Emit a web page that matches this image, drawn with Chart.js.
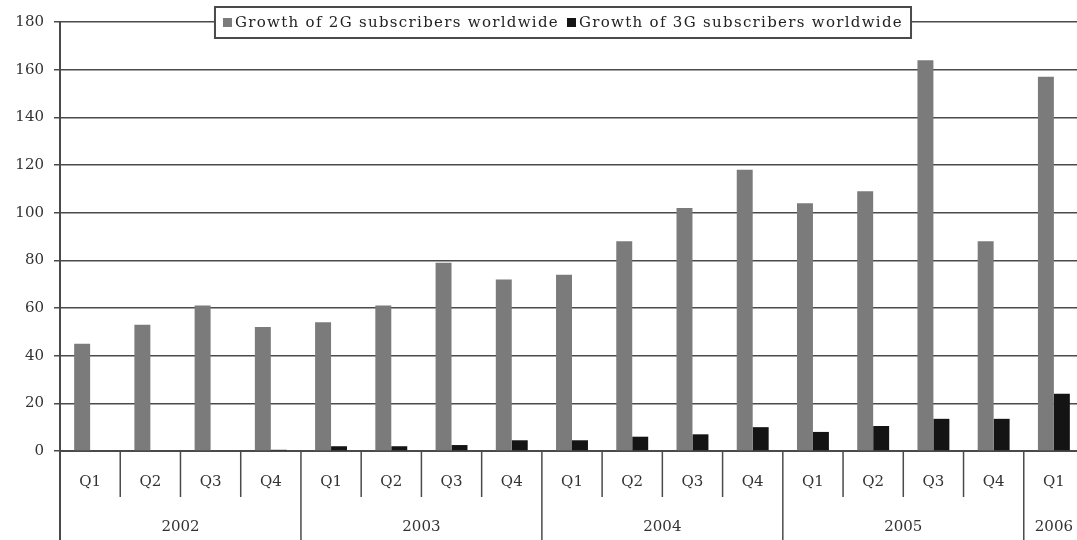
<!DOCTYPE html>
<html>
<head>
<meta charset="utf-8">
<script src="https://cdn.jsdelivr.net/npm/chart.js@4"></script>
<style>
  html, body { margin: 0; padding: 0; background: #fff; overflow: hidden; }
  /* the last quarter runs a few pixels past the visible edge */
  #wrap { width: 1077px; height: 540px; overflow: hidden; }
</style>
</head>
<body>
<div id="wrap"><canvas id="myChart" width="1084" height="540"></canvas></div>
<script>
// quarterly figures, 2002 Q1 .. 2006 Q1
const quarters = ['Q1','Q2','Q3','Q4','Q1','Q2','Q3','Q4','Q1','Q2','Q3','Q4','Q1','Q2','Q3','Q4','Q1']
const years = ['2002','2003','2004','2005','2006']
const quartersPerYear = [4, 4, 4, 4, 1]
const growth2G = [45, 53, 61, 52, 54, 61, 79, 72, 74, 88, 102, 118, 104, 109, 164, 88, 157]
const growth3G = [0, 0, 0, 0.5, 2, 2, 2.5, 4.5, 4.5, 6, 7, 10, 8, 10.5, 13.5, 13.5, 24]
const yTicks = [0, 20, 40, 60, 80, 100, 120, 140, 160, 180]

const labelFont = '15px "DejaVu Serif"'
const lineColor = '#4a4a4a'
const textColor = '#333'

var ctx = document.getElementById('myChart').getContext('2d')

// x axis: quarter labels, year labels and the divider lines between them
const groupedAxis = {
    id: 'groupedAxis',
    afterDraw(chart) {
        const c = chart.ctx
        const area = chart.chartArea
        const n = quarters.length
        const w = (area.right - area.left) / n
        c.save()
        c.strokeStyle = lineColor
        c.lineWidth = 1.5
        c.fillStyle = textColor
        c.font = labelFont
        c.textAlign = 'center'
        c.textBaseline = 'middle'

        let yearStarts = [0]
        quartersPerYear.forEach(q => yearStarts.push(yearStarts[yearStarts.length - 1] + q))

        for (let i = 0; i < n; i++) {
            const x = area.left + i * w
            const isYear = yearStarts.includes(i)
            c.beginPath()
            c.moveTo(x, area.bottom)
            c.lineTo(x, isYear ? chart.height : area.bottom + 46)
            c.stroke()
            c.fillText(quarters[i], x + w / 2, area.bottom + 31)
        }

        years.forEach((yr, k) => {
            const x0 = area.left + yearStarts[k] * w
            const x1 = area.left + yearStarts[k + 1] * w
            c.fillText(yr, (x0 + x1) / 2, area.bottom + 76)
        })

        // y axis line carries on down through the label rows
        c.beginPath()
        c.moveTo(area.left, area.top)
        c.lineTo(area.left, chart.height)
        c.lineWidth = 2
        c.stroke()
        c.restore()
    }
}

// boxed legend sitting over the top gridline
const boxLegend = {
    id: 'boxLegend',
    afterDraw(chart) {
        const c = chart.ctx
        const sets = chart.data.datasets
        c.save()
        c.font = '15px "DejaVu Serif"'
        c.letterSpacing = '1.3px'
        c.textBaseline = 'middle'
        const sq = 9, gap = 3, between = 8
        let total = 0
        const widths = sets.map(ds => c.measureText(ds.label).width)
        widths.forEach(tw => total += sq + gap + tw)
        total += between * (sets.length - 1)
        const padX = 8
        const cx = 563
        const boxW = total + padX * 2
        const boxL = cx - boxW / 2
        const top = 7, h = 31
        c.fillStyle = '#fff'
        c.fillRect(boxL, top, boxW, h)
        c.strokeStyle = lineColor
        c.lineWidth = 2
        c.strokeRect(boxL, top, boxW, h)
        let x = boxL + padX
        const my = top + h / 2
        sets.forEach((ds, i) => {
            c.fillStyle = ds.backgroundColor
            c.fillRect(x, my - sq / 2, sq, sq)
            x += sq + gap
            c.fillStyle = '#222'
            c.fillText(ds.label, x, my + 1)
            x += widths[i] + between
        })
        c.restore()
    }
}

let myChart = new Chart(ctx, {
    type: 'bar',
    data: {
        labels: quarters,
        datasets: [{
            label: 'Growth of 2G subscribers worldwide',
            data: growth2G,
            backgroundColor: '#7b7b7b',
            categoryPercentage: 0.53,
            barPercentage: 1.0
        }, {
            label: 'Growth of 3G subscribers worldwide',
            data: growth3G,
            backgroundColor: '#141414',
            categoryPercentage: 0.53,
            barPercentage: 1.0
        }]
    },
    options: {
        responsive: false,
        animation: false,
        layout: { padding: { top: 22, right: 0, left: 0, bottom: 0 } },
        plugins: {
            legend: { display: false },
            tooltip: { enabled: false }
        },
        scales: {
            x: {
                grid: { display: false },
                ticks: { display: false },
                border: { display: true, color: lineColor, width: 2 },
                afterFit(scale) { scale.height = 89 }
            },
            y: {
                min: 0,
                max: 180,
                afterBuildTicks(scale) { scale.ticks = yTicks.map(v => ({ value: v })) },
                grid: { color: lineColor, lineWidth: 1.5, tickLength: 6 },
                border: { display: true, color: lineColor, width: 2 },
                ticks: { font: { family: 'DejaVu Serif', size: 15 }, color: textColor, padding: 10 },
                afterFit(scale) { scale.width = 60 }
            }
        }
    },
    plugins: [groupedAxis, boxLegend]
})
</script>
</body>
</html>
